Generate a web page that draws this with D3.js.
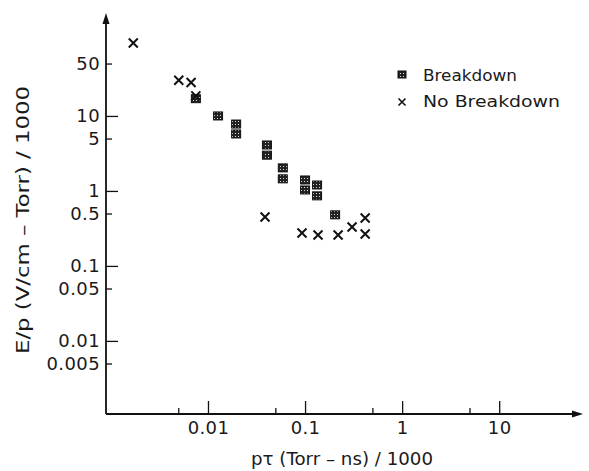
<!DOCTYPE html>
<html>
<head>
<meta charset="utf-8">
<script src="https://cdn.jsdelivr.net/npm/d3@7"></script>
<style>
  body { margin: 0; background: #fff; }
  svg { display: block; font-family: "DejaVu Sans", sans-serif; }
</style>
</head>
<body>
<div id="chart"></div>
<script>
// breakdown points (p*tau / 1000, E/p / 1000)
const breakdownX = [0.0075, 0.0127, 0.0195, 0.0195, 0.0405, 0.0405, 0.059, 0.059, 0.1, 0.1, 0.133, 0.133, 0.204];
const breakdownY = [17, 10, 7.8, 5.75, 4.1, 3.0, 2.03, 1.45, 1.40, 1.03, 1.2, 0.86, 0.48];

// no breakdown points
const noBreakdownX = [0.0017, 0.0050, 0.0067, 0.0075, 0.0387, 0.093, 0.136, 0.219, 0.305, 0.416, 0.416];
const noBreakdownY = [94, 30, 28, 18.5, 0.45, 0.275, 0.259, 0.259, 0.331, 0.436, 0.267];

const xMajor = [0.01, 0.1, 1, 10];
const xMajorLabels = ['0.01', '0.1', '1', '10'];
const xMinor = [0.005, 0.05, 0.5, 5];
const yTicks = [50, 10, 5, 1, 0.5, 0.1, 0.05, 0.01, 0.005];
const yTickLabels = ['50', '10', '5', '1', '0.5', '0.1', '0.05', '0.01', '0.005'];
const yMajor = [10, 1, 0.1, 0.01];

const width = 589, height = 471;
const m = { left: 106, right: 583, top: 13, bottom: 414 };

const svg = d3.select('#chart').append('svg')
    .attr('width', width)
    .attr('height', height);

const defs = svg.append('defs');
const pat = defs.append('pattern')
    .attr('id', 'dots')
    .attr('width', 3).attr('height', 3)
    .attr('patternUnits', 'userSpaceOnUse');
pat.append('rect').attr('width', 3).attr('height', 3).attr('fill', '#222');
pat.append('rect').attr('x', 1).attr('y', 1).attr('width', 1).attr('height', 1).attr('fill', '#ddd');

const x = d3.scaleLog().domain([0.00089, 73]).range([m.left, m.right]);
const y = d3.scaleLog().domain([0.00106, 236]).range([m.bottom, m.top]);

// y axis
const yAxis = svg.append('g')
    .attr('transform', `translate(${m.left},0)`)
    .call(d3.axisLeft(y).tickValues(yTicks)
        .tickFormat((d, i) => yTickLabels[i])
        .tickSize(-12).tickPadding(6));
yAxis.select('.domain').remove();
yAxis.selectAll('.tick line')
    .attr('x2', d => yMajor.includes(d) ? 12 : 6)
    .attr('stroke', '#111').attr('stroke-width', 1.3);
yAxis.selectAll('.tick text')
    .attr('font-size', 18).attr('font-family', '"DejaVu Sans", sans-serif')
    .attr('fill', '#1a1a1a').attr('letter-spacing', 0.4);

// x axis
const xAxis = svg.append('g')
    .attr('transform', `translate(0,${m.bottom})`)
    .call(d3.axisBottom(x).tickValues(xMajor)
        .tickFormat((d, i) => xMajorLabels[i])
        .tickSize(-13).tickPadding(7));
xAxis.select('.domain').remove();
xAxis.selectAll('.tick line').attr('stroke', '#111').attr('stroke-width', 1.3);
xAxis.selectAll('.tick text')
    .attr('font-size', 18).attr('font-family', '"DejaVu Sans", sans-serif')
    .attr('fill', '#1a1a1a').attr('letter-spacing', 0.4);

svg.append('g').selectAll('line')
    .data(xMinor)
    .enter().append('line')
    .attr('x1', d => x(d)).attr('x2', d => x(d))
    .attr('y1', m.bottom).attr('y2', m.bottom - 6)
    .attr('stroke', '#111').attr('stroke-width', 1.3);

// axis lines with arrows
svg.append('line')
    .attr('x1', m.left).attr('y1', m.bottom).attr('x2', m.left).attr('y2', m.top + 4)
    .attr('stroke', '#111').attr('stroke-width', 1.8);
svg.append('line')
    .attr('x1', m.left).attr('y1', m.bottom).attr('x2', m.right - 4).attr('y2', m.bottom)
    .attr('stroke', '#111').attr('stroke-width', 1.8);
svg.append('path')
    .attr('d', `M${m.left},${m.top} l-3.5,11 l7,0 z`)
    .attr('fill', '#111');
svg.append('path')
    .attr('d', `M${m.right},${m.bottom} l-11,-3.5 l0,7 z`)
    .attr('fill', '#111');

// breakdown squares
const bData = breakdownX.map((d, i) => ({ x: d, y: breakdownY[i] }));
svg.append('g').selectAll('rect')
    .data(bData)
    .enter().append('rect')
    .attr('x', d => x(d.x) - 4.5)
    .attr('y', d => y(d.y) - 4)
    .attr('width', 9).attr('height', 8)
    .attr('fill', 'url(#dots)')
    .attr('stroke', '#111').attr('stroke-width', 1);

// no breakdown crosses
const nData = noBreakdownX.map((d, i) => ({ x: d, y: noBreakdownY[i] }));
const s = 4.5;
svg.append('g').selectAll('path')
    .data(nData)
    .enter().append('path')
    .attr('d', d => {
        const cx = x(d.x), cy = y(d.y);
        return `M${cx - s},${cy - s}L${cx + s},${cy + s}M${cx - s},${cy + s}L${cx + s},${cy - s}`;
    })
    .attr('stroke', '#111').attr('stroke-width', 2);

// legend
const legend = svg.append('g').attr('transform', 'translate(402,0)');
legend.append('rect')
    .attr('x', -4).attr('y', 71).attr('width', 8).attr('height', 7)
    .attr('fill', 'url(#dots)').attr('stroke', '#111').attr('stroke-width', 1);
legend.append('path')
    .attr('d', 'M-3.5,98.5L3.5,105.5M-3.5,105.5L3.5,98.5')
    .attr('stroke', '#111').attr('stroke-width', 1.6);
legend.append('text')
    .attr('x', 21).attr('y', 81)
    .attr('font-size', 16).attr('fill', '#1a1a1a')
    .attr('textLength', 94).attr('lengthAdjust', 'spacingAndGlyphs')
    .text('Breakdown');
legend.append('text')
    .attr('x', 21).attr('y', 107)
    .attr('font-size', 16).attr('fill', '#1a1a1a')
    .attr('textLength', 137).attr('lengthAdjust', 'spacingAndGlyphs')
    .text('No  Breakdown');

// axis titles
svg.append('text')
    .attr('transform', 'translate(29,220) rotate(-90)')
    .attr('text-anchor', 'middle')
    .attr('font-size', 18).attr('fill', '#1a1a1a')
    .attr('textLength', 268).attr('lengthAdjust', 'spacingAndGlyphs')
    .text('E/p  (V/cm \u2013 Torr) / 1000');
svg.append('text')
    .attr('x', 342).attr('y', 465)
    .attr('text-anchor', 'middle')
    .attr('font-size', 18).attr('fill', '#1a1a1a')
    .attr('textLength', 182).attr('lengthAdjust', 'spacingAndGlyphs')
    .text('p\u03c4 (Torr \u2013 ns) / 1000');
</script>
</body>
</html>
